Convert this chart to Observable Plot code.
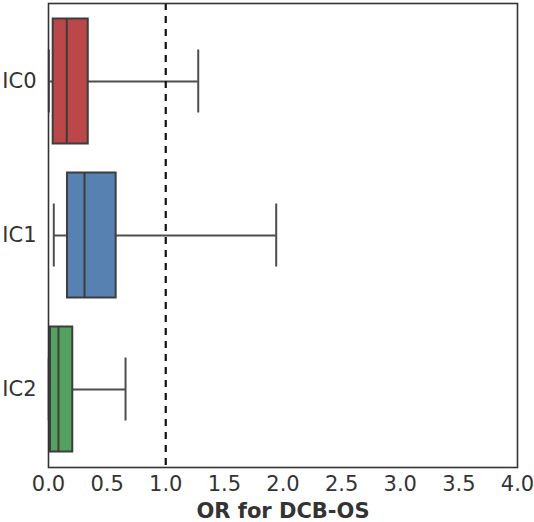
<!DOCTYPE html>
<html><head><meta charset="utf-8">
<script src="https://cdn.jsdelivr.net/npm/d3@7"></script>
<script src="https://cdn.jsdelivr.net/npm/@observablehq/plot@0.6"></script>
<style>
html,body{margin:0;padding:0;background:#fff;}
#chart svg{font-family:"DejaVu Sans",sans-serif;}
g[aria-label="x-axis label"] text{font-weight:bold;}
</style></head><body><div id="chart"></div>
<script>
const categories = ["IC0", "IC1", "IC2"];
const whiskerLow = [0.003, 0.045, 0.002];
const q1 = [0.040, 0.162, 0.017];
const median = [0.156, 0.307, 0.085];
const q3 = [0.339, 0.577, 0.207];
const whiskerHigh = [1.277, 1.942, 0.657];
const boxColors = ["#bb4748", "#5781b0", "#55a15f"];
const xTicks = [0, 0.5, 1, 1.5, 2, 2.5, 3, 3.5, 4];
const referenceOR = [1];
const xLabel = "OR for DCB-OS";

const rows = categories.map((c, i) => ({
  cat: c, lo: whiskerLow[i], q1: q1[i], med: median[i], q3: q3[i], hi: whiskerHigh[i], color: boxColors[i]
}));

const edge = "#3d3d3d";
const boxInset = 14.5;
const capInset = 45.5;

const chart = Plot.plot({
  width: 534,
  height: 522,
  marginTop: 3,
  marginLeft: 48,
  marginRight: 17,
  marginBottom: 55,
  style: {fontFamily: "DejaVu Sans, sans-serif", fontSize: "21px", color: "#333", background: "#fff"},
  x: {domain: [0, 4]},
  y: {domain: categories, padding: 0},
  marks: [
    Plot.ruleY(rows, {y: "cat", x1: "lo", x2: "q1", stroke: "#4d4d4d", strokeWidth: 2}),
    Plot.ruleY(rows, {y: "cat", x1: "q3", x2: "hi", stroke: "#4d4d4d", strokeWidth: 2}),
    Plot.tickX(rows, {y: "cat", x: "lo", stroke: "#4d4d4d", strokeWidth: 2, insetTop: capInset, insetBottom: capInset}),
    Plot.tickX(rows, {y: "cat", x: "hi", stroke: "#4d4d4d", strokeWidth: 2, insetTop: capInset, insetBottom: capInset}),
    Plot.barX(rows, {y: "cat", x1: "q1", x2: "q3", fill: "color", stroke: edge, strokeWidth: 2, insetTop: boxInset, insetBottom: boxInset}),
    Plot.tickX(rows, {y: "cat", x: "med", stroke: edge, strokeWidth: 2, insetTop: boxInset, insetBottom: boxInset}),
    Plot.ruleX(referenceOR, {x: d => d, stroke: "#111", strokeWidth: 2.2, strokeDasharray: "7,6"}),
    Plot.axisX({ticks: xTicks, tickFormat: d => d.toFixed(1), tickSize: 0, tickPadding: 9, fontSize: 21, label: xLabel, labelAnchor: "center", labelArrow: "none", labelOffset: 50}),
    Plot.axisY({tickSize: 0, tickPadding: 12, fontSize: 21, label: null}),
    Plot.frame({stroke: "#333", strokeWidth: 1.6})
  ]
});
document.getElementById("chart").append(chart);
</script>
</body></html>
